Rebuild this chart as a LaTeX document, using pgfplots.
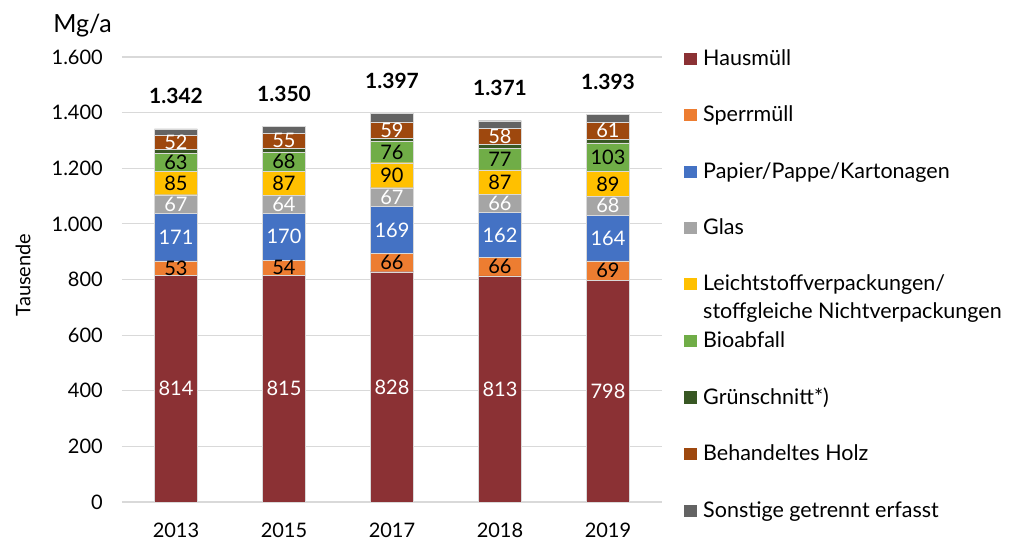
\documentclass[border=0pt]{standalone}
\usepackage{fontspec}
\setmainfont{Lato}
\usepackage{pgfplots}
\pgfplotsset{compat=1.18}
\usepackage{pgfplotstable}

\definecolor{haus}{HTML}{8B3134}
\definecolor{sperr}{HTML}{ED7D31}
\definecolor{papier}{HTML}{4472C4}
\definecolor{glas}{HTML}{A5A5A5}
\definecolor{lvp}{HTML}{FFC000}
\definecolor{bio}{HTML}{70AD47}
\definecolor{gruen}{HTML}{385723}
\definecolor{holz}{HTML}{9E480E}
\definecolor{sonst}{HTML}{636363}
\definecolor{gridgray}{HTML}{D9D9D9}

% values in 1000 Mg/a
\pgfplotstableread{
x haus sperr papier glas lvp bio gruen holz sonst total
0 814  53  171 67 85 63  14 52 23 1342
1 815  54  170 64 87 68  13 55 24 1350
2 828  66  169 67 90 76  12 59 30 1397
3 813  66  162 66 87 77  14 58 28 1371
4 798  69  164 68 89 103 13 61 28 1393
}\datatable

% stacked bars put nodes near coords in the middle of the segment already
\pgfplotsset{
  seglabel/.style={
    visualization depends on=rawy\as\rawy,
    nodes near coords={\pgfmathprintnumber{\rawy}},
    every node near coord/.append style={anchor=center, inner sep=0pt, text=#1},
  },
}

\begin{document}
\fontsize{20}{24}\selectfont
\begin{tikzpicture}
\useasboundingbox (-122pt,-40pt) rectangle (888pt,502pt);
\begin{axis}[
  at={(0pt,0pt)}, anchor=south west,
  scale only axis, width=540pt, height=445pt,
  clip=false,
  ybar stacked, bar width=43pt,
  xmin=-0.5, xmax=4.5, ymin=0, ymax=1600,
  xtick=data, xticklabels={2013,2015,2017,2018,2019},
  ytick={0,200,...,1600},
  ymajorgrids, grid style={draw=gridgray, line width=1.2pt},
  axis line style={draw=none},
  major tick length=0pt,
  xticklabel style={anchor=north, inner sep=0pt, yshift=-21pt},
  yticklabel style={anchor=east, inner sep=0pt, xshift=-19pt},
  /pgf/number format/fixed,
  /pgf/number format/precision=0,
  /pgf/number format/1000 sep={.},
  /pgf/number format/assume math mode=true,
  every axis plot/.append style={draw=white!85!black, line width=0.3pt},
]
\addplot[fill=haus, seglabel=white] table[x=x, y=haus] {\datatable};
\addplot[fill=sperr, seglabel=black] table[x=x, y=sperr] {\datatable};
\addplot[fill=papier, seglabel=white] table[x=x, y=papier] {\datatable};
\addplot[fill=glas, seglabel=white] table[x=x, y=glas] {\datatable};
\addplot[fill=lvp, seglabel=black] table[x=x, y=lvp] {\datatable};
\addplot[fill=bio, seglabel=black] table[x=x, y=bio] {\datatable};
\addplot[fill=gruen] table[x=x, y=gruen] {\datatable};
\addplot[fill=holz, seglabel=white] table[x=x, y=holz] {\datatable};
% last segment carries the total above the bar
\addplot[fill=sonst, point meta=explicit, nodes near coords,
  visualization depends on=rawy\as\rawy,
  every node near coord/.append style={anchor=base, inner sep=0pt,
    yshift=25+0.1390625*\rawy, text=black,
    font=\fontsize{21}{25}\selectfont\bfseries}]
  table[x=x, y=sonst, meta=total] {\datatable};
\end{axis}

% axis texts
\node[anchor=base east, inner sep=0pt, font=\fontsize{25}{30}\selectfont] at (-10pt,469pt) {Mg/a};
\node[rotate=90, inner sep=0pt] at (-99pt,227pt) {Tausende};

% legend
\def\legitem#1#2#3{%
  \fill[#1] (562pt,#2pt-6pt) rectangle ++(12.5pt,12.5pt);
  \node[anchor=base west, inner sep=0pt] at (581pt,#2pt-6.5pt) {#3};}
\begin{scope}[font=\fontsize{21.5}{26}\selectfont]
\legitem{haus}{442.5}{Hausmüll}
\legitem{sperr}{387}{Sperrmüll}
\legitem{papier}{330}{Papier/Pappe/Kartonagen}
\legitem{glas}{274}{Glas}
\legitem{lvp}{218}{Leichtstoffverpackungen/}
\node[anchor=base west, inner sep=0pt] at (581pt,183.5pt) {stoffgleiche Nichtverpackungen};
\legitem{bio}{161}{Bioabfall}
\legitem{gruen}{104.5}{Grünschnitt*)}
\legitem{holz}{48}{Behandeltes Holz}
\legitem{sonst}{-9}{Sonstige getrennt erfasst}
\end{scope}
\end{tikzpicture}
\end{document}
